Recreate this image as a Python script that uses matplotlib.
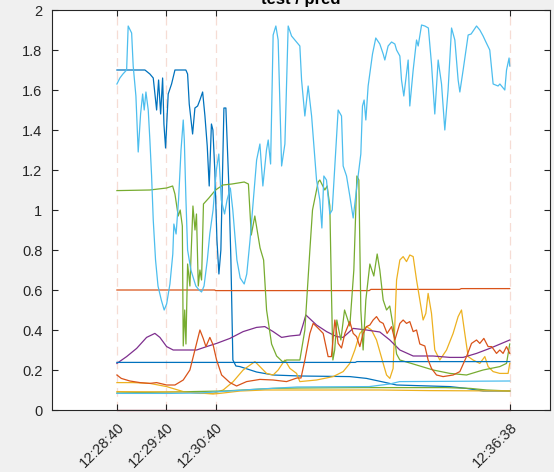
import matplotlib.pyplot as plt
import numpy as np

plt.rcParams['font.family'] = ['Liberation Sans', 'DejaVu Sans']

# x is seconds after 12:28:40
tick_secs = [0, 60, 120, 478]
tick_labels = ['12:28:40', '12:29:40', '12:30:40', '12:36:38']
y_ticks = [0, 0.2, 0.4, 0.6, 0.8, 1, 1.2, 1.4, 1.6, 1.8, 2]
y_labels = ['0', '0.2', '0.4', '0.6', '0.8', '1', '1.2', '1.4', '1.6', '1.8', '2']
title_text = 'test / pred'

# (time, value) pairs
blue_drop = [(0, 1.70), (34.1, 1.70), (40.1, 1.68), (44.2, 1.66), (48.3, 1.50), (50.7, 1.65),
             (53.2, 1.48), (55.6, 1.66), (57.2, 1.43), (59.2, 1.31), (62.4, 1.58), (66.5, 1.63),
             (70.6, 1.70), (83.9, 1.70), (86, 1.68), (88, 1.53), (92.1, 1.38), (94.9, 1.51),
             (98.2, 1.52), (101, 1.55), (104.3, 1.59), (107.1, 1.47), (109.9, 1.32), (112.3, 1.12),
             (115, 1.43), (116.8, 1.40), (119.2, 1.19), (121.7, 0.85), (124.1, 0.68), (126.5, 0.80),
             (130.2, 1.51), (132.6, 1.51), (136.2, 1.12), (138.7, 0.75), (141.1, 0.25), (144.8, 0.22),
             (149.6, 0.217), (169.9, 0.19), (190.1, 0.175), (222.6, 0.17), (283.4, 0.167),
             (303.7, 0.158), (324, 0.14), (340.3, 0.125), (405.1, 0.117), (425.4, 0.108),
             (445.6, 0.095), (478, 0.095)]

orange_flat = [(0, 0.600), (119, 0.600), (120, 0.597), (307, 0.597), (309, 0.603),
               (417, 0.603), (419, 0.607), (478, 0.607)]

yellow_noisy = [(0, 0.137), (19.8, 0.137), (40.1, 0.133), (60.5, 0.117), (80.7, 0.092),
                (101, 0.083), (117.1, 0.083), (129.3, 0.10), (141.5, 0.142), (153.6, 0.20),
                (167.9, 0.242), (174, 0.217), (182.1, 0.183), (190.1, 0.175), (196.2, 0.20),
                (204.4, 0.25), (210.5, 0.208), (218.6, 0.183), (222.6, 0.142), (242.9, 0.15),
                (263.1, 0.167), (275.3, 0.192), (283.4, 0.233), (289.5, 0.30), (295.6, 0.383),
                (303.7, 0.417), (309.8, 0.40), (315.9, 0.35), (324, 0.233), (328.1, 0.175),
                (332.1, 0.158), (336.1, 0.208), (340.3, 0.65), (344.3, 0.75), (348.3, 0.767),
                (352.4, 0.742), (356.4, 0.775), (360.5, 0.767), (364.6, 0.65), (368.6, 0.55),
                (372.6, 0.45), (375.9, 0.483), (378.7, 0.583), (382.8, 0.483), (386.8, 0.30),
                (392.9, 0.25), (401.1, 0.30), (409.1, 0.383), (415.2, 0.467), (419.3, 0.50),
                (423.3, 0.383), (427.4, 0.267), (433.4, 0.25), (441.6, 0.233), (447.7, 0.267),
                (451.7, 0.217), (457.8, 0.192), (465.9, 0.183), (476, 0.183), (478, 0.233)]

purple = [(0, 0.233), (11.8, 0.267), (24, 0.308), (36.1, 0.363), (46.2, 0.383), (52.3, 0.363),
          (60.5, 0.317), (68.5, 0.30), (84.8, 0.30), (97, 0.30), (109.1, 0.317), (121.3, 0.333),
          (137.5, 0.358), (153.6, 0.392), (169.9, 0.413), (180, 0.417), (190.1, 0.392),
          (200.4, 0.363), (210.5, 0.37), (222.6, 0.375), (226, 0.42), (229.9, 0.475),
          (242.9, 0.425), (255.1, 0.392), (267.3, 0.367), (275.3, 0.363), (287.5, 0.408),
          (303.7, 0.40), (319.9, 0.39), (332.1, 0.35), (344.3, 0.30), (360.5, 0.27),
          (384.8, 0.27), (405.1, 0.263), (421.3, 0.263), (437.6, 0.283), (453.7, 0.308),
          (478, 0.35)]

green = [(0, 1.097), (40, 1.10), (60.5, 1.11), (67.8, 1.12), (70.6, 1.08), (74.6, 0.97),
         (77, 1.0), (79.6, 0.92), (80.7, 0.32), (82.5, 0.5), (84, 0.33), (86, 0.73), (88.8, 0.62),
         (92.5, 1.02), (95, 0.9), (96.8, 0.98), (99, 0.62), (101, 0.70), (103, 0.65),
         (105.3, 1.03), (111.9, 1.06), (120, 1.10), (129, 1.125), (140, 1.13), (154.9, 1.14),
         (160, 1.13), (163.5, 0.875), (167.8, 0.97), (174.2, 0.81), (178.5, 0.75), (182.1, 0.5),
         (188.2, 0.33), (194.3, 0.27), (201.9, 0.24), (206.4, 0.25), (222.6, 0.25),
         (228.7, 0.40), (234.8, 0.80), (238, 1.0), (244.9, 1.14), (246.9, 1.15), (253, 1.10),
         (255.8, 1.12), (259.1, 1.02), (261, 0.6), (262.8, 0.25), (265, 0.3), (267.6, 0.45),
         (270, 0.40), (272.5, 0.35), (277, 0.5), (283.4, 0.42), (288.3, 0.7), (292, 1.17),
         (294.4, 1.15), (296.8, 0.5), (299.6, 0.30), (302.9, 0.55), (307.8, 0.73),
         (312.6, 0.67), (316.7, 0.78), (319.9, 0.70), (324, 0.55), (328.1, 0.50), (332, 0.52),
         (336.1, 0.42), (340.3, 0.28), (344.3, 0.25), (364.6, 0.225), (384.8, 0.20),
         (405.1, 0.183), (425.4, 0.175), (445.6, 0.20), (465.9, 0.217), (474.1, 0.233),
         (478, 0.33)]

lightblue_noisy = [(0, 1.63), (3.6, 1.66), (7.3, 1.68), (11.8, 1.70), (13.7, 1.92), (17.9, 1.885),
                   (19.8, 1.72), (23.1, 1.57), (25.9, 1.29), (28.8, 1.48), (31.3, 1.58),
                   (33.2, 1.50), (35.3, 1.59), (38.1, 1.50), (40.1, 1.35), (42.2, 1.17),
                   (44.2, 0.95), (47, 0.75), (50, 0.62), (54, 0.55), (57.5, 0.50), (60.5, 0.53),
                   (64.5, 0.63), (68, 0.78), (69.3, 0.93), (72, 0.88), (75, 1.05), (78, 1.30),
                   (80.7, 1.45), (82, 1.35), (84, 1.05), (86, 0.80), (90, 0.70), (96, 0.62),
                   (100, 0.60), (103, 0.59), (106, 0.62), (110, 0.75), (113, 0.88), (117, 1.00),
                   (121, 1.20), (124, 1.28), (127, 1.05), (131, 0.98), (134, 1.05), (138, 1.11),
                   (141, 1.0), (146, 0.75), (150, 0.66), (154.9, 0.63), (158, 0.68), (162, 0.85),
                   (166, 1.05), (170, 1.25), (174, 1.33), (177.6, 1.12), (182, 1.30),
                   (184.1, 1.35), (187, 1.23), (190.1, 1.875), (193.4, 1.92), (196.2, 1.85),
                   (200.4, 1.22), (204.4, 1.33), (208.4, 1.92), (212.5, 1.87), (222.6, 1.82),
                   (224.7, 1.65), (228.7, 1.47), (232.7, 1.62), (236.9, 1.47), (242.9, 1.15),
                   (246.9, 1.05), (249.4, 0.91), (251.8, 1.17), (255, 1.15), (259.1, 0.98),
                   (262, 1.0), (267.3, 1.37), (269.2, 1.50), (273.3, 1.47), (275.3, 1.22),
                   (279.4, 1.17), (283.4, 1.07), (287.5, 0.96), (292, 1.12), (296.8, 1.28),
                   (298.8, 1.52), (300.8, 1.55), (302.9, 1.45), (305.7, 1.62), (311, 1.78),
                   (315, 1.86), (319.9, 1.83), (324, 1.78), (326, 1.75), (330, 1.82),
                   (334.2, 1.84), (338.2, 1.83), (340.3, 1.80), (344.3, 1.77), (346.3, 1.65),
                   (349.1, 1.57), (352.4, 1.68), (354.4, 1.75), (356.4, 1.52), (360.5, 1.70),
                   (364.6, 1.85), (366.6, 1.82), (370.7, 1.925), (374.7, 1.92), (379, 1.91),
                   (382.8, 1.73), (386.8, 1.48), (390.9, 1.75), (395, 1.63), (399, 1.40),
                   (403, 1.60), (407.2, 1.91), (411.2, 1.85), (415.2, 1.65), (417.3, 1.59),
                   (421.3, 1.70), (427.4, 1.875), (431, 1.88), (437.6, 1.92), (441.6, 1.90),
                   (445.6, 1.87), (449, 1.84), (453.7, 1.80), (457.8, 1.63), (463.8, 1.62),
                   (466, 1.63), (472, 1.60), (474.1, 1.70), (477.2, 1.76), (478, 1.72)]

maroon_zero = [(0, 0.0), (478, 0.0)]

blue_flat = [(0, 0.238), (290, 0.238), (292, 0.242), (478, 0.242)]

orange_noisy = [(0, 0.175), (5.3, 0.158), (15.8, 0.145), (28, 0.137), (40.1, 0.133), (48.3, 0.137),
                (60.5, 0.125), (70.6, 0.125), (80.7, 0.15), (88.8, 0.20), (94.9, 0.30),
                (101, 0.40), (105, 0.358), (108.3, 0.317), (113.1, 0.363), (117.1, 0.325),
                (121.3, 0.25), (127.4, 0.175), (137.5, 0.137), (145.6, 0.12), (157.8, 0.142),
                (174, 0.153), (190.1, 0.15), (206.4, 0.142), (219, 0.16), (224, 0.16),
                (228.7, 0.25), (234.8, 0.383), (238.8, 0.433), (242.9, 0.417), (247, 0.40),
                (251, 0.383), (257, 0.267), (261, 0.267), (265.2, 0.45), (269.2, 0.333),
                (273.3, 0.31), (277.4, 0.383), (283.4, 0.442), (287.5, 0.383), (291.6, 0.367),
                (295.6, 0.317), (299.6, 0.383), (303.7, 0.417), (307.8, 0.425), (311.8, 0.45),
                (315.9, 0.467), (319.9, 0.442), (324, 0.433), (328.8, 0.383), (334.2, 0.417),
                (338.2, 0.35), (344.3, 0.433), (348.3, 0.45), (352.4, 0.433), (356.4, 0.442),
                (360.5, 0.392), (364.6, 0.40), (368.6, 0.33), (374.7, 0.32), (378.7, 0.25),
                (382.8, 0.208), (388.9, 0.175), (396.9, 0.167), (409.1, 0.175), (417.3, 0.192),
                (425.4, 0.267), (431.5, 0.333), (437.6, 0.35), (441.6, 0.333), (446.5, 0.358),
                (451.7, 0.317), (456, 0.317), (461.9, 0.283), (465.9, 0.30), (469.9, 0.283),
                (474.1, 0.317), (478, 0.283)]

green_low = [(0, 0.085), (130, 0.095), (190, 0.108), (222, 0.11), (300, 0.112), (400, 0.112),
             (430, 0.108), (450, 0.1), (478, 0.095)]

yellow_low = [(0, 0.092), (80, 0.09), (101, 0.085), (117, 0.08), (125, 0.083), (150, 0.095),
              (180, 0.1), (320, 0.1), (380, 0.097), (478, 0.095)]

lightblue_low = [(0, 0.083), (64, 0.083), (101, 0.085), (137, 0.095), (174, 0.105), (219, 0.115),
                 (307, 0.117), (332, 0.13), (344, 0.142), (478, 0.145)]

# matlab default line colours
c_blue = '#0072BD'
c_orange = '#D95319'
c_yellow = '#EDB120'
c_purple = '#7E2F8E'
c_green = '#77AC30'
c_lblue = '#4DBEEE'
c_maroon = '#A2142F'

lines = [
    (blue_drop, c_blue),
    (orange_flat, c_orange),
    (yellow_noisy, c_yellow),
    (purple, c_purple),
    (green, c_green),
    (lightblue_noisy, c_lblue),
    (maroon_zero, c_maroon),
    (blue_flat, c_blue),
    (orange_noisy, c_orange),
    (green_low, c_green),
    (yellow_low, c_yellow),
    (lightblue_low, c_lblue),
]

fig = plt.figure(figsize=(5.54, 4.72), dpi=100, facecolor='#f0f0f0')
ax = fig.add_axes([52 / 554, 62 / 472, 498 / 554, 400 / 472])
ax.set_facecolor('white')

for t in tick_secs:
    ax.axvline(t, color='#f6dcd4', lw=0.9, ls=(0, (7, 4)), zorder=1)

for pts, col in lines:
    arr = np.array(pts)
    ax.plot(arr[:, 0], arr[:, 1], color=col, lw=0.9, zorder=2, clip_on=False)

ax.set_xlim(-79, 527)
ax.set_ylim(0, 2)
ax.set_xticks(tick_secs)
ax.set_xticklabels(tick_labels, rotation=45, ha='right', va='top', rotation_mode='anchor')
ax.set_yticks(y_ticks)
ax.set_yticklabels(y_labels)
ax.tick_params(direction='in', length=4, width=0.8, colors='#262626', labelsize=10.5,
               top=True, right=True)
ax.tick_params(axis='y', pad=7)
ax.tick_params(axis='x', pad=7)
for sp in ax.spines.values():
    sp.set_color('#262626')
    sp.set_linewidth(0.8)

fig.text(301 / 554, 1 - 4 / 472, title_text, ha='center', va='baseline',
         fontsize=12, fontweight='bold', color='black')

fig.savefig('out.png', dpi=100, facecolor=fig.get_facecolor())
